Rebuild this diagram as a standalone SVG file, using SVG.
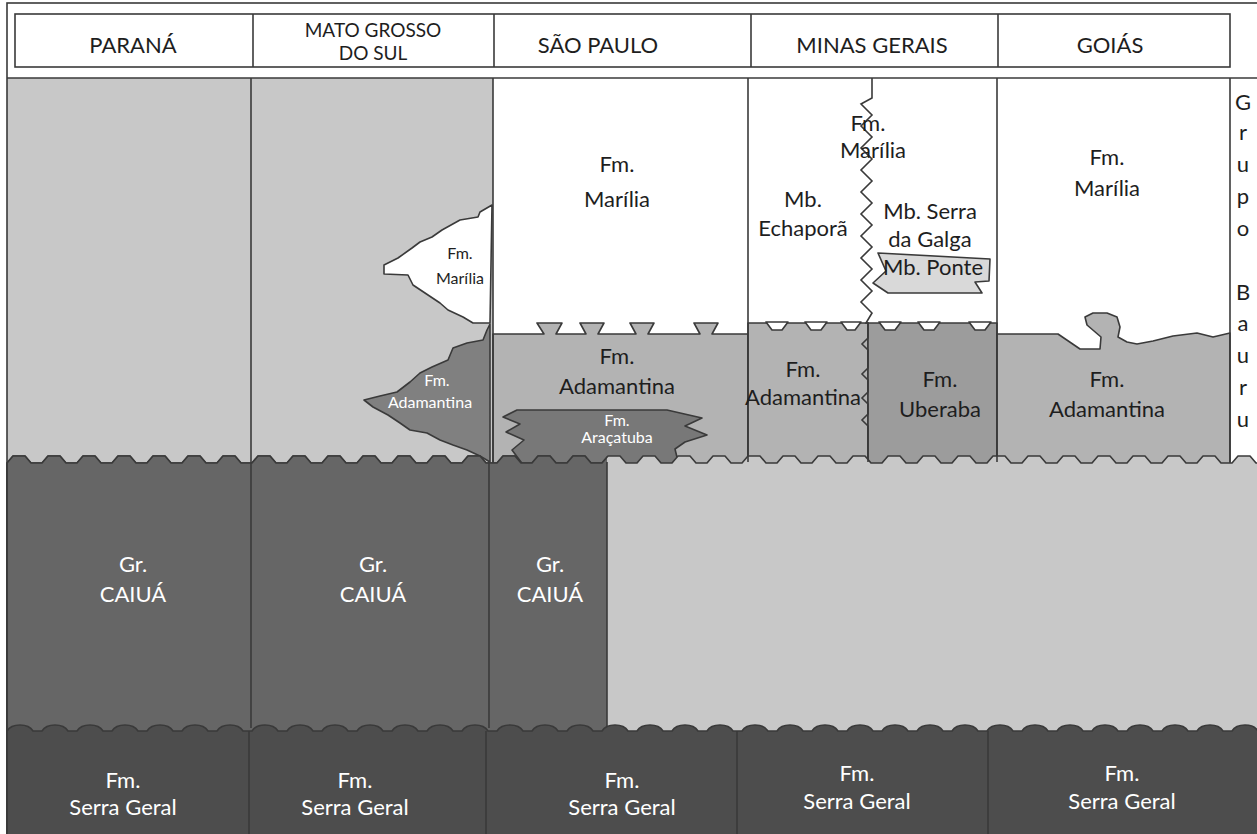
<svg xmlns="http://www.w3.org/2000/svg" xmlns:xlink="http://www.w3.org/1999/xlink" width="1257" height="834" viewBox="0 0 1257 834">
<style>
.ln{fill:none;stroke:#3a3a3a;stroke-width:1.6}
.u{stroke:#3a3a3a;stroke-width:1.6;stroke-linejoin:round}
.t{font-family:Lato,"Liberation Sans",sans-serif;font-size:22px;text-anchor:middle;fill:#1e1e1e}
.w{fill:#ffffff}
.h{font-size:22px}
.h2{font-size:19px}
.s{font-size:16px}
</style>
<defs>
<path id="wvA" d="M0,0 l6,-7h12l6,7h11 l6,-7h12l6,7h11 l6,-7h12l6,7h11 l6,-7h12l6,7h11 l6,-7h12l6,7h11 l6,-7h12l6,7h11 l6,-7h12l6,7h11 l6,-7h12l6,7h11 l6,-7h12l6,7h11 l6,-7h12l6,7h11 l6,-7h12l6,7h11 l6,-7h12l6,7h11 l6,-7h12l6,7h11 l6,-7h12l6,7h11 l6,-7h12l6,7h11 l6,-7h12l6,7h11 l6,-7h12l6,7h11 l6,-7h12l6,7h11 l6,-7h12l6,7h11 l6,-7h12l6,7h11 l6,-7h12l6,7h11 l6,-7h12l6,7h11 l6,-7h12l6,7h11 l6,-7h12l6,7h11 l6,-7h12l6,7h11 l6,-7h12l6,7h11 l6,-7h12l6,7h11 l6,-7h12l6,7h11 l6,-7h12l6,7h11 l6,-7h12l6,7h11 l6,-7h12l6,7h11 l6,-7h12l6,7h11 l6,-7h12l6,7h11 l6,-7h12l6,7h11 l6,-7h12l6,7h11 l6,-7h12l6,7h11 l6,-7h12l6,7h11 l6,-7h12l6,7h11 l6,-7h12l6,7h11 V400 H0 Z"/>
<path id="wvB" d="M0,0 c3,-5 9,-6 13,-6 s10,1 13,6 h9 c3,-5 9,-6 13,-6 s10,1 13,6 h9 c3,-5 9,-6 13,-6 s10,1 13,6 h9 c3,-5 9,-6 13,-6 s10,1 13,6 h9 c3,-5 9,-6 13,-6 s10,1 13,6 h9 c3,-5 9,-6 13,-6 s10,1 13,6 h9 c3,-5 9,-6 13,-6 s10,1 13,6 h9 c3,-5 9,-6 13,-6 s10,1 13,6 h9 c3,-5 9,-6 13,-6 s10,1 13,6 h9 c3,-5 9,-6 13,-6 s10,1 13,6 h9 c3,-5 9,-6 13,-6 s10,1 13,6 h9 c3,-5 9,-6 13,-6 s10,1 13,6 h9 c3,-5 9,-6 13,-6 s10,1 13,6 h9 c3,-5 9,-6 13,-6 s10,1 13,6 h9 c3,-5 9,-6 13,-6 s10,1 13,6 h9 c3,-5 9,-6 13,-6 s10,1 13,6 h9 c3,-5 9,-6 13,-6 s10,1 13,6 h9 c3,-5 9,-6 13,-6 s10,1 13,6 h9 c3,-5 9,-6 13,-6 s10,1 13,6 h9 c3,-5 9,-6 13,-6 s10,1 13,6 h9 c3,-5 9,-6 13,-6 s10,1 13,6 h9 c3,-5 9,-6 13,-6 s10,1 13,6 h9 c3,-5 9,-6 13,-6 s10,1 13,6 h9 c3,-5 9,-6 13,-6 s10,1 13,6 h9 c3,-5 9,-6 13,-6 s10,1 13,6 h9 c3,-5 9,-6 13,-6 s10,1 13,6 h9 c3,-5 9,-6 13,-6 s10,1 13,6 h9 c3,-5 9,-6 13,-6 s10,1 13,6 h9 c3,-5 9,-6 13,-6 s10,1 13,6 h9 c3,-5 9,-6 13,-6 s10,1 13,6 h9 c3,-5 9,-6 13,-6 s10,1 13,6 h9 c3,-5 9,-6 13,-6 s10,1 13,6 h9 c3,-5 9,-6 13,-6 s10,1 13,6 h9 c3,-5 9,-6 13,-6 s10,1 13,6 h9 c3,-5 9,-6 13,-6 s10,1 13,6 h9 c3,-5 9,-6 13,-6 s10,1 13,6 h9 c3,-5 9,-6 13,-6 s10,1 13,6 h9 V400 H0 Z"/>
<clipPath id="cc"><rect x="0" y="0" width="607" height="834"/></clipPath>
</defs>
<rect x="0" y="0" width="1257" height="834" fill="#ffffff"/>

<!-- upper units -->
<g id="upper-parana-ms"><rect x="7" y="78" width="486" height="392" fill="#c8c8c8"/></g>
<g id="bauru-col"><rect x="1230" y="78" width="27" height="392" fill="#ffffff"/></g>
<g id="ms-marilia"><polygon class="u" fill="#ffffff" points="492,205 480,212 478,217 460,220 442,230 432,237 420,242 412,248 398,258 384,265 384,274 408,275 413,285 428,295 440,303 448,310 463,317 473,323 490,323"/></g>
<g id="ms-adamantina"><polygon class="u" fill="#808080" points="490,324 487,330 483,340 467,343 453,348 448,360 432,367 420,373 410,382 397,392 380,396 364,400 373,407 388,415 400,423 410,430 427,433 440,440 453,445 467,450 480,456 490,462"/></g>
<g id="sp-adamantina"><polygon class="u" fill="#b3b3b3" points="493,334 544,334 537,323 562,323 556,334 586,334 580,323 604,323 598,334 636,334 630,323 654,323 648,334 700,334 694,323 718,323 712,334 748,334 748,470 493,470"/></g>
<g id="sp-aracatuba"><polygon class="u" fill="#787878" points="517,410 667,410 702,418 685,426 707,435 685,442 675,449 680,470 527,470 512,450 524,440 506,432 520,424 503,417"/></g>
<g id="mg-adamantina"><rect class="u" x="748" y="323" width="120" height="147" fill="#b3b3b3"/></g>
<g id="mg-uberaba"><rect class="u" x="868" y="323" width="129" height="147" fill="#9c9c9c"/></g>
<g id="mg-teeth"><path class="u" fill="#ffffff" d="M766,322 h22 l-6,8 h-10 z M805,322 h22 l-6,8 h-10 z M841,322 h20 l-6,8 h-8 z M879,322 h22 l-6,8 h-10 z M918,322 h22 l-6,8 h-10 z M969,322 h22 l-6,8 h-10 z"/></g>
<g id="go-adamantina"><polygon class="u" fill="#b3b3b3" points="997,334 1058,334 1080,349 1100,349 1101,337 1087,325 1085,317 1093,313 1107,313 1117,317 1120,327 1118,337 1127,342 1137,344 1153,341 1173,336 1197,333 1213,337 1230,333 1230,470 997,470"/></g>
<g id="mg-ponte"><polygon class="u" fill="#d9d9d9" points="878,253 990,259 989,281 975,282 982,293 888,293 873,283 886,271"/></g>

<!-- lower units -->
<g id="lower-gray"><use xlink:href="#wvA" x="7" y="463" fill="#c8c8c8" class="u"/></g>
<g id="caiua" clip-path="url(#cc)"><use xlink:href="#wvA" x="7" y="463" fill="#666666" class="u"/></g>
<g id="serra-geral"><use xlink:href="#wvB" x="7" y="731" fill="#4d4d4d" class="u"/></g>

<!-- boundaries -->
<g id="connectors">
<rect class="ln" x="7" y="3" width="1262" height="840"/>
<line class="ln" x1="7" y1="78" x2="1257" y2="78"/>
<line class="ln" x1="251" y1="78" x2="251" y2="462"/>
<line class="ln" x1="493" y1="78" x2="493" y2="462"/>
<line class="ln" x1="748" y1="78" x2="748" y2="462"/>
<line class="ln" x1="997" y1="78" x2="997" y2="462"/>
<line class="ln" x1="1230" y1="78" x2="1230" y2="462"/>
<polyline class="ln" points="872,78 872,98 861,104 872,115 861,126 872,137 861,148 872,159 861,170 872,181 861,192 872,203 861,214 872,225 861,236 872,247 861,258 872,269 861,280 872,291 861,302 872,313 866,323 868,323 868,338 862,344 868,350 868,368 862,374 868,380 868,392 862,398 868,404 868,414 862,420 868,426 868,462"/>
<line class="ln" x1="251" y1="462" x2="251" y2="728"/>
<line class="ln" x1="489" y1="462" x2="489" y2="728"/>
<line class="ln" x1="607" y1="462" x2="607" y2="727"/>
<line class="ln" x1="249" y1="731" x2="249" y2="834"/>
<line class="ln" x1="486" y1="731" x2="486" y2="834"/>
<line class="ln" x1="737" y1="731" x2="737" y2="834"/>
<line class="ln" x1="988" y1="731" x2="988" y2="834"/>
</g>

<!-- header -->
<g id="header">
<rect class="ln" x="15" y="14" width="1215" height="53" fill="#ffffff"/>
<line class="ln" x1="253" y1="14" x2="253" y2="67"/>
<line class="ln" x1="494" y1="14" x2="494" y2="67"/>
<line class="ln" x1="751" y1="14" x2="751" y2="67"/>
<line class="ln" x1="998" y1="14" x2="998" y2="67"/>
<text class="t h" x="133" y="53">PARANÁ</text>
<text class="t h2" x="373" y="37">MATO GROSSO</text>
<text class="t h2" x="373" y="60">DO SUL</text>
<text class="t h" x="598" y="53">SÃO PAULO</text>
<text class="t h" x="872" y="53">MINAS GERAIS</text>
<text class="t h" x="1110" y="53">GOIÁS</text>
</g>

<!-- labels -->
<g id="labels">
<text class="t" x="617" y="172">Fm.</text>
<text class="t" x="617" y="207">Marília</text>
<text class="t s" x="460" y="259">Fm.</text>
<text class="t s" x="460" y="284">Marília</text>
<text class="t" x="868" y="131">Fm.</text>
<text class="t" x="873" y="158">Marília</text>
<text class="t" x="803" y="207">Mb.</text>
<text class="t" x="803" y="236">Echaporã</text>
<text class="t" x="930" y="219">Mb. Serra</text>
<text class="t" x="930" y="247">da Galga</text>
<text class="t" x="933" y="275">Mb. Ponte</text>
<text class="t" x="1107" y="165">Fm.</text>
<text class="t" x="1107" y="196">Marília</text>
<text class="t" x="617" y="364">Fm.</text>
<text class="t" x="617" y="394">Adamantina</text>
<text class="t s w" x="617" y="426">Fm.</text>
<text class="t s w" x="617" y="443">Araçatuba</text>
<text class="t s w" x="437" y="386">Fm.</text>
<text class="t s w" x="430" y="408">Adamantina</text>
<text class="t" x="803" y="377">Fm.</text>
<text class="t" x="803" y="405">Adamantina</text>
<text class="t" x="940" y="387">Fm.</text>
<text class="t" x="940" y="417">Uberaba</text>
<text class="t" x="1107" y="387">Fm.</text>
<text class="t" x="1107" y="417">Adamantina</text>
<text class="t" x="1243" y="110">G</text>
<text class="t" x="1243" y="140">r</text>
<text class="t" x="1243" y="172">u</text>
<text class="t" x="1243" y="204">p</text>
<text class="t" x="1243" y="236">o</text>
<text class="t" x="1243" y="300">B</text>
<text class="t" x="1243" y="331">a</text>
<text class="t" x="1243" y="363">u</text>
<text class="t" x="1243" y="395">r</text>
<text class="t" x="1243" y="427">u</text>
<text class="t w" x="133" y="572">Gr.</text>
<text class="t w" x="133" y="602">CAIUÁ</text>
<text class="t w" x="373" y="572">Gr.</text>
<text class="t w" x="373" y="602">CAIUÁ</text>
<text class="t w" x="550" y="572">Gr.</text>
<text class="t w" x="550" y="602">CAIUÁ</text>
<text class="t w" x="123" y="788">Fm.</text>
<text class="t w" x="123" y="815">Serra Geral</text>
<text class="t w" x="355" y="788">Fm.</text>
<text class="t w" x="355" y="815">Serra Geral</text>
<text class="t w" x="622" y="788">Fm.</text>
<text class="t w" x="622" y="815">Serra Geral</text>
<text class="t w" x="857" y="781">Fm.</text>
<text class="t w" x="857" y="809">Serra Geral</text>
<text class="t w" x="1122" y="781">Fm.</text>
<text class="t w" x="1122" y="809">Serra Geral</text>
</g>
</svg>
